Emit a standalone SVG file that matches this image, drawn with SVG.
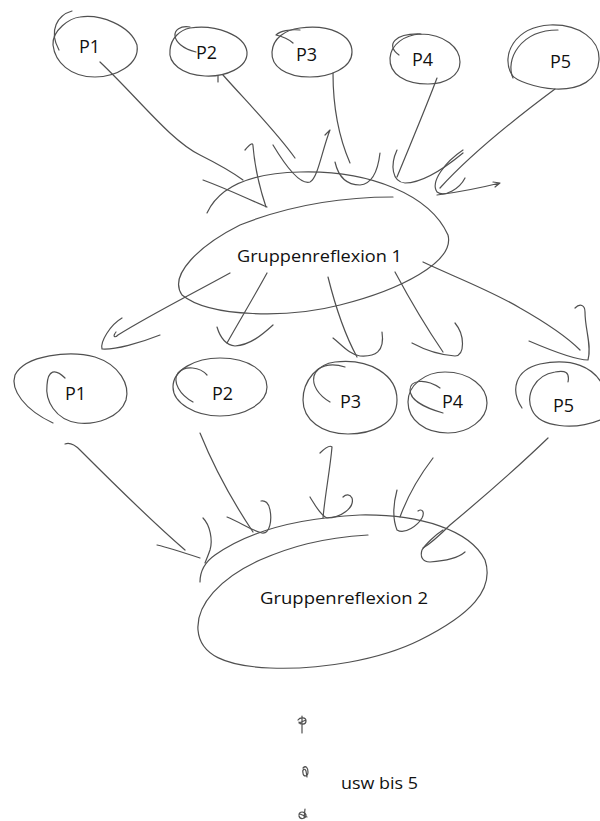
<svg xmlns="http://www.w3.org/2000/svg" width="600" height="821" viewBox="0 0 600 821">
<style>
.s{fill:none;stroke:#505050;stroke-width:1.2;stroke-linecap:round;stroke-linejoin:round}
.t{font-family:"Open Sans","Noto Sans","Liberation Sans",sans-serif;fill:#111;font-size:18px}
.g{font-family:"Open Sans","Noto Sans","Liberation Sans",sans-serif;fill:#111;font-size:17px}
</style>
<rect width="600" height="821" fill="#fff"/>
<g id="top-p1">
<path class="s" d="M80,17 C100,14 130,25 137,45 C140,65 115,77 95,77 C70,77 55,62 53,45 C52,30 70,18 80,17"/>
<path class="s" d="M72,11 C58,15 48,30 59,50"/>
<text class="t" x="79" y="53">P1</text>
</g>
<g id="top-p2">
<path class="s" d="M190,28 C215,24 245,35 247,52 C248,68 225,77 205,76 C182,75 168,63 170,50 C171,38 180,30 190,28"/>
<path class="s" d="M190,27 C170,24 168,45 196,52"/>
<text class="t" x="196" y="59">P2</text>
</g>
<g id="top-p3">
<path class="s" d="M300,28 C330,24 352,35 352,52 C352,68 330,77 310,77 C285,77 271,66 272,52 C273,38 285,30 300,28"/>
<path class="s" d="M300,30 C290,29 280,31 276,35 C282,36 290,40 293,43"/>
<text class="t" x="296" y="61">P3</text>
</g>
<g id="top-p4">
<path class="s" d="M420,34 C445,34 460,48 460,62 C460,76 445,84 428,84 C405,84 389,74 390,58 C391,44 405,35 420,34"/>
<path class="s" d="M399,55 C385,45 395,33 421,34"/>
<text class="t" x="412" y="66">P4</text>
</g>
<g id="top-p5">
<path class="s" d="M512,75 C500,55 515,27 550,25 C580,24 600,40 599,60 C598,80 580,90 555,89 C535,88 515,80 512,75"/>
<path class="s" d="M513,78 C505,60 520,30 558,30"/>
<text class="t" x="550" y="68">P5</text>
</g>
<g id="gr1">
<path class="s" d="M207,213 C220,185 255,173 300,172 C370,170 430,195 448,235 C455,262 400,290 340,305 C290,318 210,318 182,295 C168,275 200,245 240,225 C290,205 340,197 393,197"/>
<text class="g" x="237" y="262" textLength="165" lengthAdjust="spacingAndGlyphs">Gruppenreflexion 1</text>
</g>
<g id="row2-p1">
<path class="s" d="M53,423 C25,410 10,390 15,375 C25,355 70,350 95,357 C120,365 130,385 126,400 C120,418 95,425 78,423 C55,420 45,400 47,385 C48,370 55,368 65,378"/>
<text class="t" x="65" y="400">P1</text>
</g>
<g id="row2-p2">
<path class="s" d="M220,358 C250,358 267,372 267,387 C267,403 245,416 220,416 C195,416 173,403 173,387 C173,370 195,358 220,358"/>
<path class="s" d="M193,402 C180,395 172,382 178,373 C185,365 200,367 207,375"/>
<text class="t" x="212" y="400">P2</text>
</g>
<g id="row2-p3">
<path class="s" d="M335,362 C370,358 397,375 397,400 C397,425 370,434 348,434 C322,434 303,420 303,400 C303,380 318,364 335,362"/>
<path class="s" d="M330,402 C318,395 312,385 314,376 C317,366 330,362 345,367"/>
<text class="t" x="340" y="408">P3</text>
</g>
<g id="row2-p4">
<path class="s" d="M445,372 C470,372 487,387 487,403 C487,420 468,433 448,433 C425,433 408,420 408,402 C408,385 425,372 445,372"/>
<path class="s" d="M443,413 C425,408 410,400 410,390 C410,380 425,378 440,388"/>
<text class="t" x="442" y="408">P4</text>
</g>
<g id="row2-p5">
<path class="s" d="M522,408 C510,390 515,370 540,364 C570,358 595,365 605,390"/>
<path class="s" d="M568,382 C570,372 565,370 555,372 C535,375 525,395 532,410 C540,428 575,430 600,420"/>
<text class="t" x="553" y="412">P5</text>
</g>
<g id="gr2">
<path class="s" d="M200,582 C200,570 205,562 215,555 C250,530 300,518 360,515 C420,514 470,530 485,560 C495,590 470,615 420,640 C380,660 320,670 270,668 C225,666 200,655 198,630 C196,605 220,578 260,560 C290,547 320,538 368,535"/>
<text class="g" x="260" y="604" textLength="168" lengthAdjust="spacingAndGlyphs">Gruppenreflexion 2</text>
</g>
<g id="more">
<path class="s" d="M302,716 L302,733 M298,720 C300,717 306,717 306,721 C306,725 300,725 299,722 M299,723 L306,720"/>
<path class="s" d="M303,768 C306,765 308,768 308,772 C308,777 303,777 303,773 C302,769 305,768 306,771 L307,777"/>
<path class="s" d="M299,815 C299,811 305,811 306,815 C306,819 300,820 299,816 M305,809 L304,818 M300,814 L307,817"/>
<text class="g" x="341" y="789" textLength="77" lengthAdjust="spacingAndGlyphs">usw bis 5</text>
</g>
<g id="connectors">
<path class="s" d="M100,62 C140,100 170,140 200,155 C220,165 232,172 243,180"/>
<path class="s" d="M203,180 C230,190 250,200 267,207"/>
<path class="s" d="M245,150 C250,144 253,142 253,146 C255,170 262,195 266,207"/>
<path class="s" d="M223,75 C245,100 275,130 295,158 M218,76 L218,82"/>
<path class="s" d="M273,145 C285,165 300,185 310,182 C318,178 322,150 330,130 C328,132 326,134 325,135"/>
<path class="s" d="M333,73 C333,110 340,140 350,163"/>
<path class="s" d="M335,162 C338,175 345,185 360,185 C372,184 378,170 380,153"/>
<path class="s" d="M437,78 C425,110 410,145 397,177"/>
<path class="s" d="M397,150 C390,165 392,182 405,183 C420,183 440,172 463,153"/>
<path class="s" d="M555,89 C520,115 470,155 440,188"/>
<path class="s" d="M463,150 C445,162 430,182 437,192 C445,198 460,188 465,178"/>
<path class="s" d="M437,195 C460,192 480,188 500,183 M493,182 L500,183 L495,187"/>
<path class="s" d="M230,273 C190,295 150,315 118,335 C115,338 112,337 116,332"/>
<path class="s" d="M122,318 C110,325 100,342 102,349 C115,350 140,343 160,335"/>
<path class="s" d="M267,273 C255,295 240,320 227,343"/>
<path class="s" d="M217,327 C220,337 225,345 235,346 C250,345 262,335 273,325"/>
<path class="s" d="M328,277 C335,305 345,335 357,357"/>
<path class="s" d="M333,338 C342,345 350,355 360,356 C375,357 385,352 382,332"/>
<path class="s" d="M395,272 C410,300 428,330 443,352"/>
<path class="s" d="M412,343 C425,350 440,355 455,356 C465,355 465,335 455,323"/>
<path class="s" d="M423,262 C450,275 490,290 520,308 C550,325 570,340 580,350"/>
<path class="s" d="M529,341 C550,350 575,360 588,360 C592,345 585,330 585,312 C585,305 580,303 575,308"/>
<path class="s" d="M65,444 C70,442 75,445 80,450 C110,480 150,520 185,550"/>
<path class="s" d="M157,545 C170,548 185,553 200,558"/>
<path class="s" d="M203,518 C210,525 213,540 210,550 C208,556 206,560 205,563"/>
<path class="s" d="M200,433 C215,470 235,505 253,532"/>
<path class="s" d="M227,517 C240,522 250,530 262,533 C270,534 272,520 270,510 C269,503 265,500 261,501"/>
<path class="s" d="M320,453 C325,448 330,445 332,447 C330,470 325,495 323,518"/>
<path class="s" d="M310,497 C315,505 320,515 327,518 C340,518 355,508 352,498 C350,494 346,494 343,497"/>
<path class="s" d="M433,458 C420,475 408,495 400,517"/>
<path class="s" d="M397,490 C393,505 393,520 397,530 C405,535 418,525 422,518 C425,512 422,508 418,511"/>
<path class="s" d="M548,438 C520,465 480,500 450,525 C440,535 428,545 423,548"/>
<path class="s" d="M443,530 C435,535 425,545 422,550 C420,556 422,562 430,562 C445,561 458,558 465,552"/>
</g>
</svg>
